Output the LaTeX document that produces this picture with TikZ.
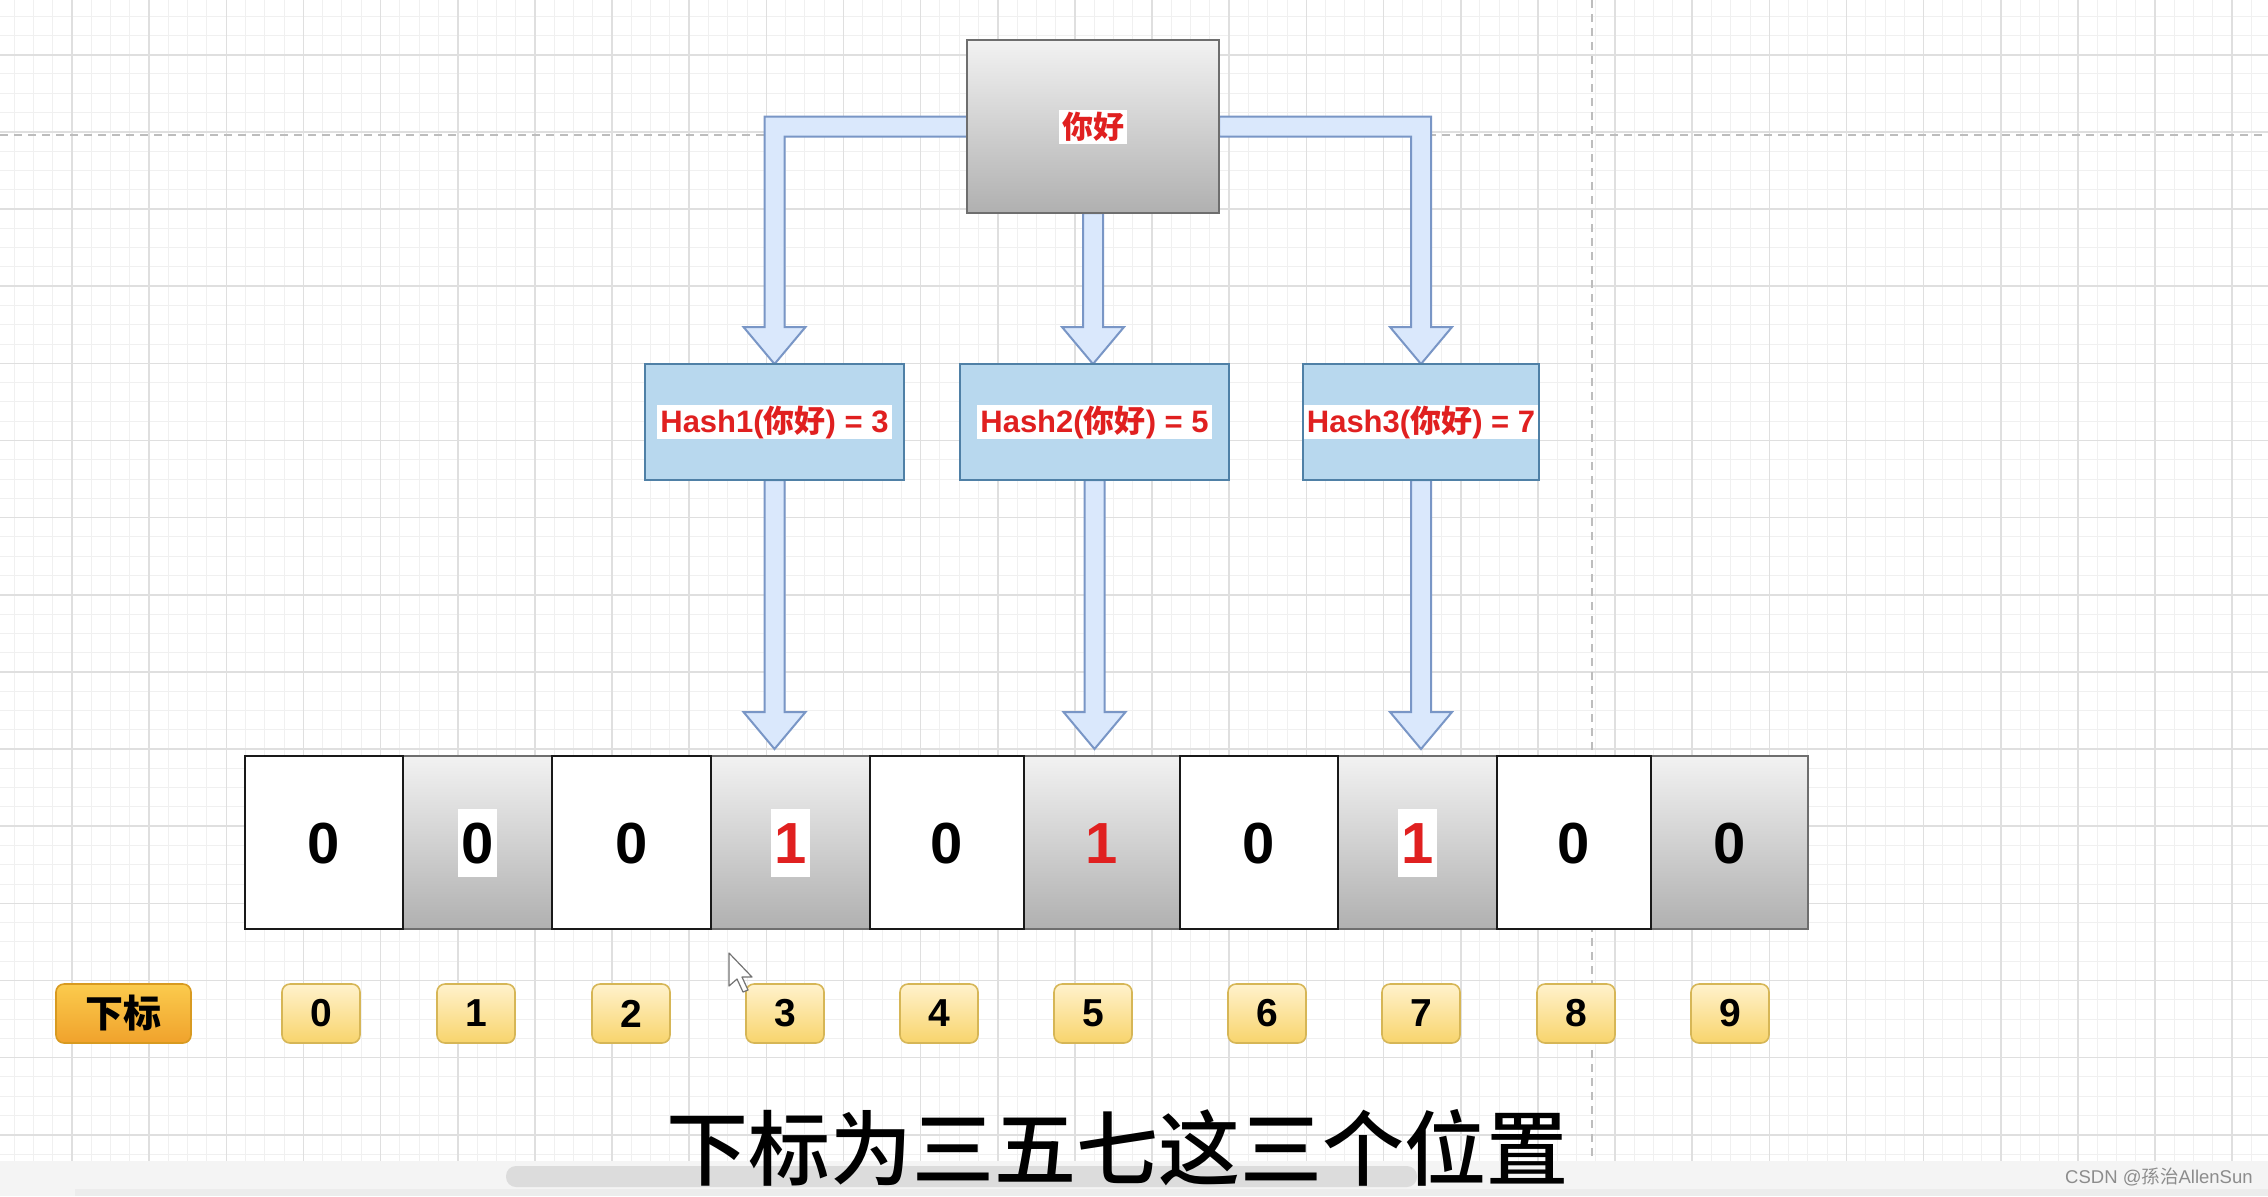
\documentclass[tikz,border=0pt]{standalone}
\usepackage{fontspec}
\setmainfont{Liberation Sans}
\newfontfamily\cjk{Noto Sans CJK SC}
\newfontfamily\capfont{Noto Sans CJK SC}[UprightFont={* Medium}]
\usetikzlibrary{calc}
\definecolor{gridmin}{HTML}{F0F0F0}
\definecolor{gridmaj}{HTML}{DFDFDF}
\definecolor{dashc}{HTML}{BDBDBD}
\definecolor{myred}{HTML}{E02020}
\definecolor{arrfill}{HTML}{DAE8FC}
\definecolor{arrline}{HTML}{7996C6}
\definecolor{hashfill}{HTML}{B8D8EE}
\definecolor{hashline}{HTML}{4F80A6}
\definecolor{graytop}{HTML}{F2F2F2}
\definecolor{graybot}{HTML}{B0B0B0}
\definecolor{grayline}{HTML}{6E6E6E}
\definecolor{idxtop}{HTML}{FFF2CC}
\definecolor{idxbot}{HTML}{F8D46C}
\definecolor{idxline}{HTML}{D6B656}
\definecolor{headtop}{HTML}{FBCB4D}
\definecolor{headbot}{HTML}{F0A22C}
\definecolor{headline}{HTML}{D89A20}
\definecolor{bandc}{HTML}{F4F4F4}
\definecolor{bandlow}{HTML}{ECECEC}
\definecolor{scrollc}{HTML}{DCDCDC}
\definecolor{wmark}{HTML}{8C8C8C}
\pgfdeclarelayer{gridlayer}
\pgfdeclarelayer{arrowlayer}
\pgfsetlayers{gridlayer,arrowlayer,main}
\newcommand\vbarrow[2]{%
  \draw[barrow] ($(#1)+(-10,0)$) -- ($(#2)+(-10,-37)$) -- ($(#2)+(-31,-37)$) -- (#2)
    -- ($(#2)+(31,-37)$) -- ($(#2)+(10,-37)$) -- ($(#1)+(10,0)$) -- cycle;}
\newcommand\hstrut{\rule[-3pt]{0pt}{17pt}}
\newcommand\cstrut{\rule[-2.6pt]{0pt}{17pt}}
\newcommand\dstrut{\rule[-6.6pt]{0pt}{34pt}}
\begin{document}
\begin{tikzpicture}[x=0.5pt,y=-0.5pt,
  minorgrid/.style={gridmin,line width=0.5pt},
  majorgrid/.style={gridmaj,line width=0.8pt},
  guide/.style={dashc,line width=1pt,dash pattern=on 4pt off 3pt},
  barrow/.style={fill=arrfill,draw=arrline,line width=1pt,line join=miter},
  graybox/.style={top color=graytop,bottom color=graybot,draw=grayline,line width=1.25pt,
    minimum width=126pt,minimum height=86.5pt,inner sep=0pt,outer sep=0pt},
  hashbox/.style={fill=hashfill,draw=hashline,line width=1pt,minimum height=58pt,
    inner sep=0pt,outer sep=0pt},
  hashtxt/.style={fill=white,text=myred,font=\fontsize{15.5}{17}\selectfont\bfseries,
    inner xsep=1.5pt,inner ysep=0pt},
  wcell/.style={fill=white,draw=black!90,line width=1.25pt,minimum height=86.5pt,
    inner sep=0pt,outer sep=0pt},
  gcell/.style={top color=graytop,bottom color=graybot,draw=grayline,line width=1.25pt,
    minimum height=86.5pt,inner sep=0pt,outer sep=0pt},
  digit/.style={font=\fontsize{29}{34}\selectfont\bfseries,inner xsep=1.5pt,inner ysep=0pt},
  idx/.style={rounded corners=4pt,top color=idxtop,bottom color=idxbot,draw=idxline,
    line width=0.8pt,minimum width=39pt,minimum height=29.5pt,inner sep=0pt,
    font=\fontsize{19.5}{22}\selectfont\bfseries},
  idxhead/.style={rounded corners=4pt,top color=headtop,bottom color=headbot,draw=headline,
    line width=0.8pt,minimum width=67.5pt,minimum height=29.5pt,inner sep=0pt,
    font=\fontsize{19}{22}\selectfont\cjk\bfseries}
]
\useasboundingbox (0,0) rectangle (2268,1196);
\begin{pgfonlayer}{gridlayer}
\fill[white] (0,0) rectangle (2268,1196);
\foreach \i [evaluate=\i as \x using 14.1+19.2875*\i] in {0,...,117}
  {\draw[minorgrid] (\x,0) -- (\x,1161);}
\foreach \i [evaluate=\i as \y using 16.1+19.2875*\i] in {0,...,59}
  {\draw[minorgrid] (0,\y) -- (2268,\y);}
\foreach \i [evaluate=\i as \x using 72+77.15*\i] in {0,...,28}
  {\draw[majorgrid] (\x,0) -- (\x,1161);}
\foreach \i [evaluate=\i as \y using 54.7+77.15*\i] in {0,...,14}
  {\draw[majorgrid] (0,\y) -- (2268,\y);}
\draw[guide] (0,135) -- (2268,135);
\draw[guide] (1592,0) -- (1592,1161);
\fill[bandc] (0,1161) rectangle (2268,1196);
\fill[bandlow] (75,1189) rectangle (2268,1196);
\fill[scrollc,rounded corners=5pt] (506,1166) rectangle (1417,1187);
\end{pgfonlayer}

% top box
\node[graybox,label={[hashtxt]center:{\cjk\cstrut 你好}}] (top) at (1093,126.5) {};
% hash boxes
\node[hashbox,minimum width=129.5pt,label={[hashtxt]center:{\hstrut Hash1({\cjk 你好}) = 3}}] (h1) at (774.5,422) {};
\node[hashbox,minimum width=134.5pt,label={[hashtxt]center:{\hstrut Hash2({\cjk 你好}) = 5}}] (h2) at (1094.5,422) {};
\node[hashbox,minimum width=118pt,label={[hashtxt]center:{\hstrut Hash3({\cjk 你好}) = 7}}] (h3) at (1421,422) {};

% array cells (gray first, white on top)
\node[gcell,minimum width=74.5pt,label={[digit,fill=white]center:{\dstrut 0}}] (c1) at (477.5,842.5) {};
\node[gcell,minimum width=79.5pt,label={[digit,fill=white,text=myred]center:{\dstrut 1}}] (c3) at (790.5,842.5) {};
\node[gcell,minimum width=78pt,label={[digit,text=myred]center:{\dstrut 1}}] (c5) at (1102,842.5) {};
\node[gcell,minimum width=79.5pt,label={[digit,fill=white,text=myred]center:{\dstrut 1}}] (c7) at (1417.5,842.5) {};
\node[gcell,minimum width=78.5pt,label={[digit]center:{\dstrut 0}}] (c9) at (1729.5,842.5) {};
\node[wcell,minimum width=79pt,label={[digit]center:{\dstrut 0}}] (c0) at (324,842.5) {};
\node[wcell,minimum width=79.5pt,label={[digit]center:{\dstrut 0}}] (c2) at (631.5,842.5) {};
\node[wcell,minimum width=77pt,label={[digit]center:{\dstrut 0}}] (c4) at (947,842.5) {};
\node[wcell,minimum width=79pt,label={[digit]center:{\dstrut 0}}] (c6) at (1259,842.5) {};
\node[wcell,minimum width=77pt,label={[digit]center:{\dstrut 0}}] (c8) at (1574,842.5) {};

% index labels
\node[idxhead] (ihead) at (123.5,1013.5) {下标};
\node[idx] (i0) at (321,1013.5) {0};
\node[idx] (i1) at (476,1013.5) {1};
\node[idx] (i2) at (631,1013.5) {2};
\node[idx] (i3) at (785,1013.5) {3};
\node[idx] (i4) at (939,1013.5) {4};
\node[idx] (i5) at (1093,1013.5) {5};
\node[idx] (i6) at (1267,1013.5) {6};
\node[idx] (i7) at (1421,1013.5) {7};
\node[idx] (i8) at (1576,1013.5) {8};
\node[idx] (i9) at (1730,1013.5) {9};

% caption and watermark
\node[font={\fontsize{41}{48}\selectfont\capfont},inner sep=0pt] (cap) at (1117.5,1148) {下标为三五七这三个位置};
\node[anchor=east,text=wmark,font=\fontsize{9.25}{11}\selectfont,inner sep=0pt] (wm) at (2253,1177) {CSDN @{\cjk 孫治}AllenSun};

% mouse cursor
\draw[fill=white,draw=black!55,line width=0.6pt,line join=round]
  (729,953) -- (729,986) -- (737,979) -- (743,992) -- (748,990) -- (742,977) -- (752,977) -- cycle;

% block arrows
\begin{pgfonlayer}{arrowlayer}
\coordinate (L1) at (h1.north |- top.west);
\coordinate (R1) at (h3.north |- top.east);
\draw[barrow] ($(top.west)+(0,-10)$) -- ($(L1)+(-10,-10)$) -- ($(h1.north)+(-10,-37)$)
  -- ($(h1.north)+(-31,-37)$) -- (h1.north) -- ($(h1.north)+(31,-37)$)
  -- ($(h1.north)+(10,-37)$) -- ($(L1)+(10,10)$) -- ($(top.west)+(0,10)$) -- cycle;
\draw[barrow] ($(top.east)+(0,-10)$) -- ($(R1)+(10,-10)$) -- ($(h3.north)+(10,-37)$)
  -- ($(h3.north)+(31,-37)$) -- (h3.north) -- ($(h3.north)+(-31,-37)$)
  -- ($(h3.north)+(-10,-37)$) -- ($(R1)+(-10,10)$) -- ($(top.east)+(0,10)$) -- cycle;
\coordinate (t2) at (top.south |- h2.north);
\vbarrow{top.south}{t2}
\coordinate (t3) at ($(h1.south |- c3.north)+(0,-7)$);
\coordinate (t5) at ($(h2.south |- c5.north)+(0,-7)$);
\coordinate (t7) at ($(h3.south |- c7.north)+(0,-7)$);
\vbarrow{h1.south}{t3}
\vbarrow{h2.south}{t5}
\vbarrow{h3.south}{t7}
\end{pgfonlayer}
\end{tikzpicture}
\end{document}
